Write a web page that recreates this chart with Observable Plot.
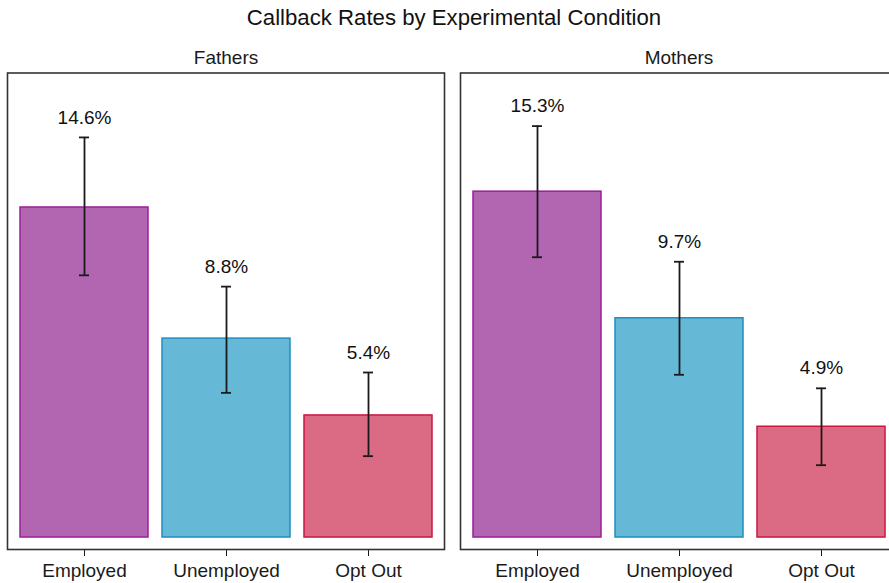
<!DOCTYPE html>
<html><head><meta charset="utf-8">
<script src="https://cdn.jsdelivr.net/npm/d3@7"></script>
<script src="https://cdn.jsdelivr.net/npm/@observablehq/plot@0.6"></script>
<style>
html,body{margin:0;padding:0;background:#fff;overflow:hidden;width:889px;height:583px}
#title{height:36px;line-height:36px;text-align:center;font-family:"Liberation Sans",Arial,sans-serif;font-size:22.2px;color:#111;width:908px;white-space:nowrap}
#chart{width:900px}
#chart svg{display:block;max-width:none !important;width:900px !important;height:547px !important}
</style></head><body>
<div id="title">Callback Rates by Experimental Condition</div>
<div id="chart"></div>
<script>
const groups = ["Fathers", "Mothers"];
const conditions = ["Employed", "Unemployed", "Opt Out"];
const fatherRates = [14.6, 8.8, 5.4];
const fatherLow = [11.6, 6.4, 3.6];
const fatherHigh = [17.7, 11.1, 7.3];
const motherRates = [15.3, 9.7, 4.9];
const motherLow = [12.4, 7.2, 3.2];
const motherHigh = [18.2, 12.2, 6.6];
const fills = ["#B266B1", "#66B8D7", "#DB6B84"];
const strokes = ["#9A1F98", "#1E8FC0", "#C8173E"];

const data = [];
groups.forEach((g, gi) => {
  const r = gi ? motherRates : fatherRates;
  const lo = gi ? motherLow : fatherLow;
  const hi = gi ? motherHigh : fatherHigh;
  conditions.forEach((c, i) => data.push({group: g, condition: c, rate: r[i], lo: lo[i], hi: hi[i], fill: fills[i], stroke: strokes[i]}));
});

const chart = Plot.plot({
  width: 900,
  height: 547,
  marginLeft: 7,
  marginRight: 2,
  marginTop: 36.5,
  marginBottom: 34,
  style: {fontFamily: "'Liberation Sans', Arial, sans-serif", fontSize: "19px", color: "#1a1a1a", background: "white", overflow: "visible"},
  fx: {domain: groups, paddingInner: 0.0353, paddingOuter: 0, label: null, axis: "top", tickSize: 0, tickPadding: 9},
  x: {domain: conditions, paddingInner: 0.1, paddingOuter: 0.083, label: null, tickSize: 7, tickPadding: 7},
  y: {domain: [-0.53, 20.55], axis: null},
  color: {type: "identity"},
  marks: [
    Plot.barY(data, {fx: "group", x: "condition", y1: 0, y2: "rate", fill: "fill", stroke: "stroke", strokeWidth: 1.5}),
    Plot.ruleX(data, {fx: "group", x: "condition", y1: "lo", y2: "hi", stroke: "#1a1a1a", strokeWidth: 1.8}),
    Plot.tickY(data, {fx: "group", x: "condition", y: "lo", stroke: "#1a1a1a", strokeWidth: 1.8, insetLeft: 59, insetRight: 59}),
    Plot.tickY(data, {fx: "group", x: "condition", y: "hi", stroke: "#1a1a1a", strokeWidth: 1.8, insetLeft: 59, insetRight: 59}),
    Plot.text(data, {fx: "group", x: "condition", y: "hi", text: d => d.rate.toFixed(1) + "%", dy: -20, fontSize: 19, fill: "#111"}),
    Plot.frame({stroke: "#333", strokeWidth: 1.6})
  ]
});
document.getElementById("chart").appendChild(chart);
</script>
</body></html>
